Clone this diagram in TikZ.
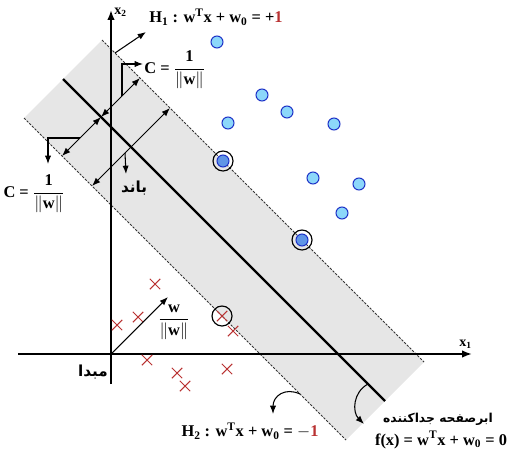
\documentclass[tikz,border=0pt]{standalone}
\usepackage{xcolor}
\usepackage{amsmath}
\usepackage{fontspec}
\setmainfont{Liberation Serif}
\newfontfamily\farsi[Script=Arabic]{DejaVu Sans}
\TeXXeTstate=1
\usepackage{tikz}
\usetikzlibrary{arrows.meta,positioning,shapes.misc}

\definecolor{bandgray}{RGB}{230,230,230}
\definecolor{dotfill}{RGB}{140,215,250}
\definecolor{dotedge}{RGB}{30,50,200}
\definecolor{crossred}{RGB}{185,50,50}
\newcommand{\normw}{\|\text{\bfseries w}\|}

\begin{document}
\begin{tikzpicture}[
    x=0.03cm, y=-0.03cm,
    every node/.style={font=\bfseries\fontsize{14}{16}\selectfont, inner sep=1pt},
    band/.style={fill=bandgray, draw=none},
    margin/.style={draw=black!80, line width=.8pt, dash pattern=on 2pt off 1.2pt},
    sep/.style={line width=2pt, draw=black},
    axis/.style={-{Latex[length=3mm]}, line width=1.4pt},
    dim/.style={{Latex[length=2.5mm]}-{Latex[length=2.5mm]}, line width=.9pt},
    flow/.style={-{Latex[length=2.5mm]}, line width=.9pt},
    posdot/.style={circle, draw=dotedge, fill=dotfill, line width=.9pt,
      minimum size=0.36cm, inner sep=0pt},
    negdot/.style={cross out, draw=crossred, line width=.9pt,
      minimum size=0.28cm, inner sep=0pt},
    ring/.style={circle, draw=black, line width=1pt, minimum size=0.6cm, inner sep=0pt},
    fa/.style={font=\farsi\bfseries\fontsize{13}{15}\selectfont}
  ]
    \useasboundingbox (0,0) rectangle (512,451);
    \coordinate (h1a) at (102,40);
    \coordinate (h1b) at (424,362);
    \coordinate (ca) at (63,79);
    \coordinate (cb) at (385,401);
    \coordinate (h2a) at (24,118);
    \coordinate (h2b) at (346,440);
    \fill[band] (h1a) -- (h2a) -- (h2b) -- (h1b) -- cycle;
    \draw[margin] (h1a) -- (h1b);
    \draw[margin] (h2a) -- (h2b);
    \draw[sep] (ca) -- (cb);

    \coordinate (o) at (111,354);
    \coordinate (xend) at (472,354);
    \coordinate (xstart) at (18,354);
    \coordinate (yend) at (111,10);
    \coordinate (ystart) at (111,384);
    \draw[axis] (xstart) -- (xend);
    \draw[axis] (ystart) -- (yend);
    \node[anchor=south west, font=\bfseries\fontsize{12}{14}\selectfont] (x1) at (458,350) {x\textsubscript{1}};
    \node[anchor=west, font=\bfseries\fontsize{12}{14}\selectfont] (x2) at (113,12) {x\textsubscript{2}};
    \node[fa] (origin) at (93,372) {\beginR مبدا\endR};

    \coordinate (l1) at (140,78);
    \coordinate (l0) at (101,117);
    \coordinate (l2) at (62,156);
    \draw[dim] (l2) -- (l0);
    \draw[dim] (l0) -- (l1);
    \coordinate (r1) at (170,108);
    \coordinate (r2) at (92,186);
    \draw[dim] (r2) -- (r1);

    \coordinate (ct) at (122,96);
    \node[anchor=west] (ctop) at (143,70) {C = $\dfrac{\text{\bfseries 1}}{\normw}$};
    \draw[flow] (ct) -- (122,64) -- (ctop.west |- 0,64);
    \coordinate (cl) at (80,138);
    \node (cleft) at (34,194) {C = $\dfrac{\text{\bfseries 1}}{\normw}$};
    \draw[flow] (cl) -- (48,138) -- (48,164);

    \coordinate (bt) at (125,153);
    \node[fa] (bandlbl) at (134,188) {\beginR باند\endR};
    \draw[flow] (bt) -- (126,174);

    \coordinate (n0) at (115,53);
    \draw[flow] (n0) -- (146,32);
    \node[anchor=west] (h1lbl) at (148,17) {H\textsubscript{1} : w\textsuperscript{T}x + w\textsubscript{0} = +{\color{crossred}1}};

    \node[posdot] (b1) at (217,42) {};
    \node[posdot] (b2) at (262,95) {};
    \node[posdot] (b3) at (287,112) {};
    \node[posdot] (b4) at (228,123) {};
    \node[posdot] (b5) at (334,124) {};
    \node[posdot] (b6) at (313,178) {};
    \node[posdot] (b7) at (359,184) {};
    \node[posdot] (b8) at (342,213) {};
    \node[posdot, fill=dotfill!60!dotedge] (s1) at (223,161) {};
    \node[ring] at (s1) {};
    \node[posdot, fill=dotfill!60!dotedge] (s2) at (302,240) {};
    \node[ring] at (s2) {};

    \node[negdot] (r1x) at (155,284) {};
    \node[negdot] (r2x) at (138,317) {};
    \node[negdot] (r3x) at (117,325) {};
    \node[negdot] (r4x) at (222,316) {};
    \node[ring] at (r4x) {};
    \node[negdot] (r5x) at (233,331) {};
    \node[negdot] (r6x) at (147,360) {};
    \node[negdot] (r7x) at (177,373) {};
    \node[negdot] (r8x) at (185,386) {};
    \node[negdot] (r9x) at (227,369) {};

    \coordinate (wt) at (168,297);
    \draw[flow] (o) -- (wt);
    \node (wlbl) at (174,322) {$\dfrac{\text{\bfseries w}}{\normw}$};

    \coordinate (h2p) at (300,394);
    \node (h2lbl) at (250,431) {H\textsubscript{2} : w\textsuperscript{T}x + w\textsubscript{0} = $-${\color{crossred}1}};
    \draw[flow] (h2p) .. controls (285,387) and (273,396) .. (273,414);

    \coordinate (cp) at (368,384);
    \node[fa, font=\farsi\bfseries\fontsize{10.5}{12}\selectfont] (seplbl) at (438,419) {\beginR ابرصفحه جداکننده\endR};
    \node (fx) at (441,440) {f(x) = w\textsuperscript{T}x + w\textsubscript{0} = 0};
    \draw[flow] (cp) .. controls (353,392) and (352,412) .. (364,424);
\end{tikzpicture}
\end{document}
